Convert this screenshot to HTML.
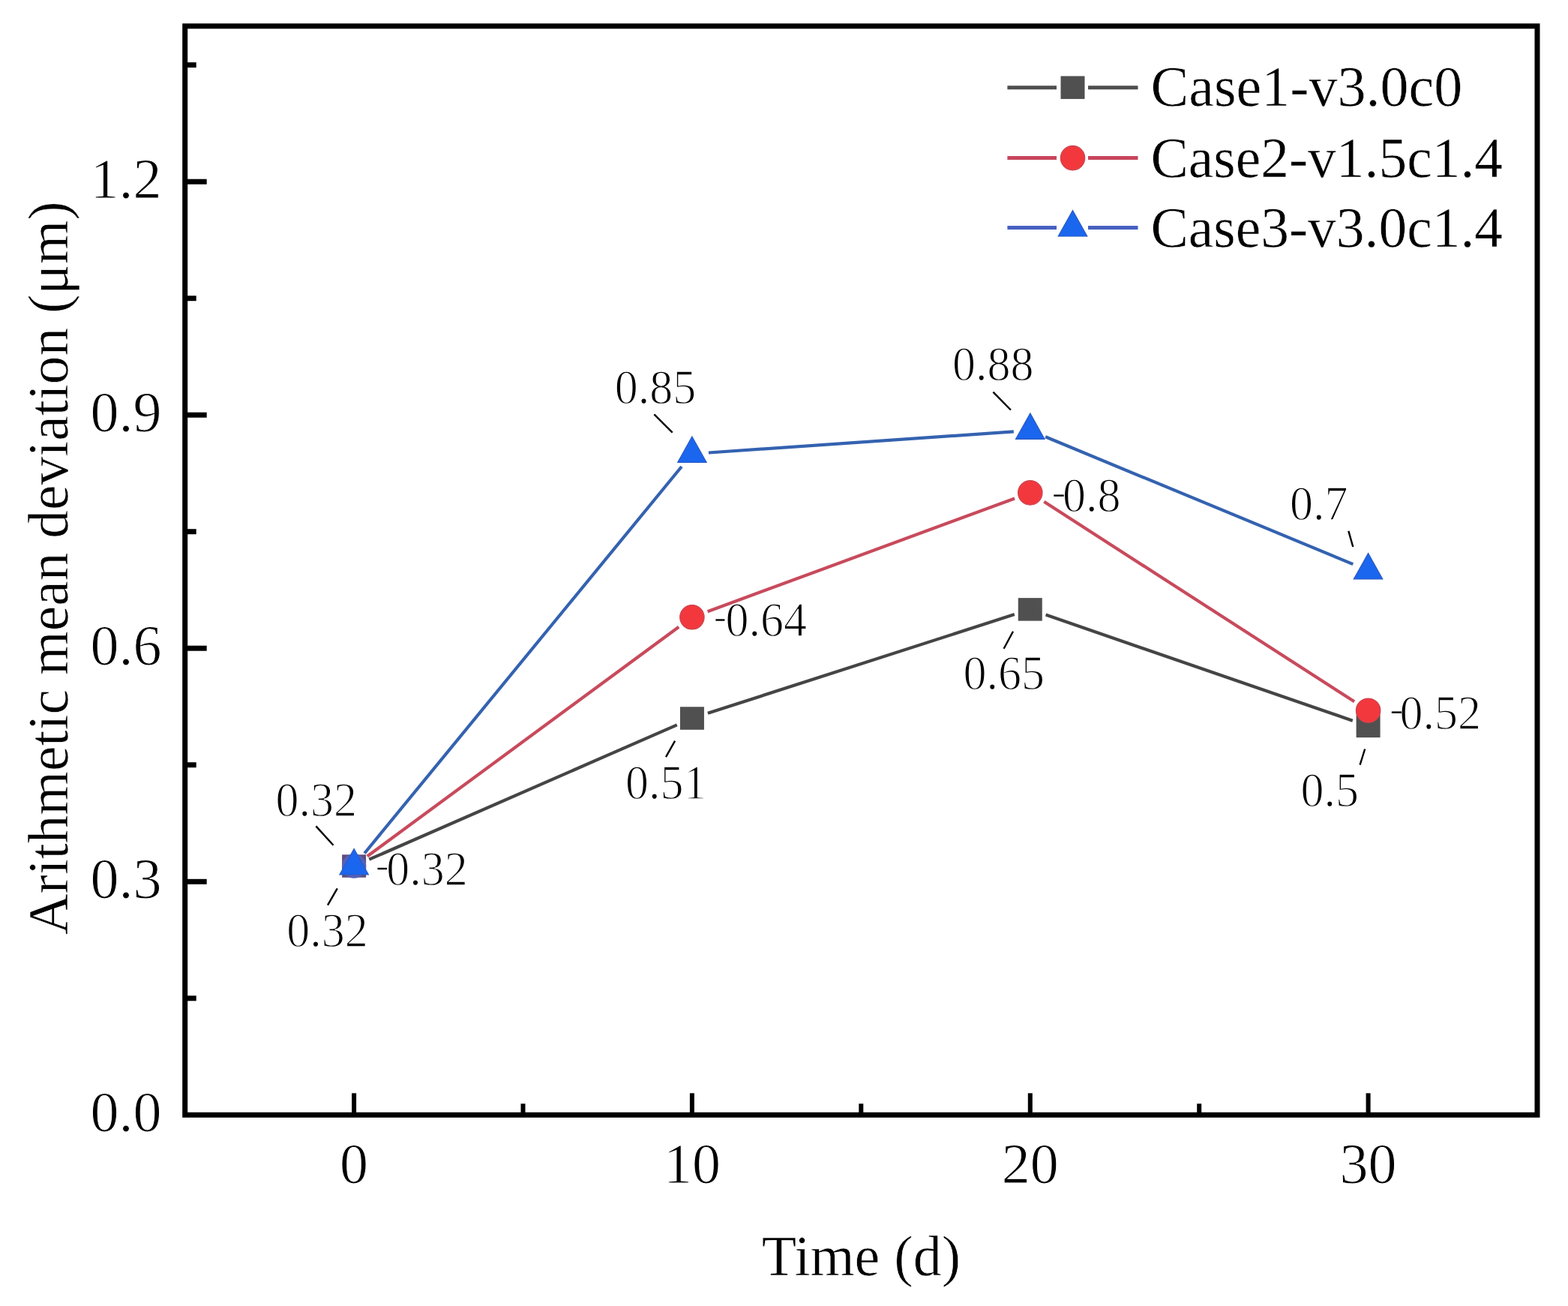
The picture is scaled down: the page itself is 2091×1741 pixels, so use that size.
<!DOCTYPE html><html><head><meta charset="utf-8"><title>Chart</title><style>html,body{margin:0;padding:0;background:#fff;}svg{display:block;}text{font-family:'Liberation Serif','Times New Roman',serif;fill:#000;stroke:#fff;stroke-width:1px;}</style></head><body>
<svg width="2091" height="1741" viewBox="0 0 2091 1741">
<rect x="0" y="0" width="2091" height="1741" fill="#fff"/>
<line x1="492.3" y1="1145.7" x2="902.8" y2="966.3" stroke="#454545" stroke-width="4.2"/>
<line x1="943.9" y1="950.8" x2="1352.8" y2="819.1" stroke="#454545" stroke-width="4.2"/>
<line x1="1394.6" y1="819.6" x2="1803.8" y2="960.7" stroke="#454545" stroke-width="4.2"/>
<rect x="456.11" y="1139.28" width="32" height="30.5" fill="#5c4f7e"/>
<rect x="906.94" y="942.29" width="32" height="30.5" fill="#505050"/>
<rect x="1357.76" y="797.14" width="32" height="30.5" fill="#505050"/>
<rect x="1808.59" y="952.66" width="32" height="30.5" fill="#505050"/>
<line x1="489.8" y1="1141.5" x2="905.2" y2="835.8" stroke="#c84a5c" stroke-width="4.2"/>
<line x1="943.6" y1="815.2" x2="1353.1" y2="664.5" stroke="#c84a5c" stroke-width="4.2"/>
<line x1="1392.3" y1="668.8" x2="1806.1" y2="935.3" stroke="#c84a5c" stroke-width="4.2"/>
<circle cx="472.1" cy="1154.5" r="16.2" fill="#5560b8"/>
<circle cx="922.9" cy="822.8" r="16.2" fill="#f2383d" stroke="#c8444e" stroke-width="1.2"/>
<circle cx="1373.8" cy="656.9" r="16.2" fill="#f2383d" stroke="#c8444e" stroke-width="1.2"/>
<circle cx="1824.6" cy="947.2" r="16.2" fill="#f2383d" stroke="#c8444e" stroke-width="1.2"/>
<line x1="486.1" y1="1137.5" x2="909.0" y2="622.0" stroke="#3462b0" stroke-width="4.2"/>
<line x1="944.9" y1="603.5" x2="1351.8" y2="575.4" stroke="#3462b0" stroke-width="4.2"/>
<line x1="1394.1" y1="582.3" x2="1804.3" y2="752.1" stroke="#3462b0" stroke-width="4.2"/>
<polygon points="472.1,1131.5 491.4,1166.0 452.9,1166.0" fill="#1a66ee" stroke="#2a5ac4" stroke-width="1.2" stroke-linejoin="miter"/>
<polygon points="922.9,582.0 942.2,616.5 903.7,616.5" fill="#1a66ee" stroke="#2a5ac4" stroke-width="1.2" stroke-linejoin="miter"/>
<polygon points="1373.8,550.9 1393.0,585.4 1354.5,585.4" fill="#1a66ee" stroke="#2a5ac4" stroke-width="1.2" stroke-linejoin="miter"/>
<polygon points="1824.6,737.5 1843.8,772.0 1805.3,772.0" fill="#1a66ee" stroke="#2a5ac4" stroke-width="1.2" stroke-linejoin="miter"/>
<rect x="246.7" y="34.8" width="1803.3" height="1451.5" fill="none" stroke="#000" stroke-width="7" stroke-linejoin="miter"/>
<line x1="246.7" y1="1330.8" x2="261.7" y2="1330.8" stroke="#000" stroke-width="7"/>
<line x1="246.7" y1="1175.3" x2="275.7" y2="1175.3" stroke="#000" stroke-width="7"/>
<line x1="246.7" y1="1019.7" x2="261.7" y2="1019.7" stroke="#000" stroke-width="7"/>
<line x1="246.7" y1="864.2" x2="275.7" y2="864.2" stroke="#000" stroke-width="7"/>
<line x1="246.7" y1="708.7" x2="261.7" y2="708.7" stroke="#000" stroke-width="7"/>
<line x1="246.7" y1="553.2" x2="275.7" y2="553.2" stroke="#000" stroke-width="7"/>
<line x1="246.7" y1="397.7" x2="261.7" y2="397.7" stroke="#000" stroke-width="7"/>
<line x1="246.7" y1="242.2" x2="275.7" y2="242.2" stroke="#000" stroke-width="7"/>
<line x1="246.7" y1="86.6" x2="261.7" y2="86.6" stroke="#000" stroke-width="7"/>
<line x1="472.1" y1="1486.3" x2="472.1" y2="1457.3" stroke="#000" stroke-width="6"/>
<line x1="697.5" y1="1486.3" x2="697.5" y2="1471.3" stroke="#000" stroke-width="6"/>
<line x1="922.9" y1="1486.3" x2="922.9" y2="1457.3" stroke="#000" stroke-width="6"/>
<line x1="1148.3" y1="1486.3" x2="1148.3" y2="1471.3" stroke="#000" stroke-width="6"/>
<line x1="1373.8" y1="1486.3" x2="1373.8" y2="1457.3" stroke="#000" stroke-width="6"/>
<line x1="1599.2" y1="1486.3" x2="1599.2" y2="1471.3" stroke="#000" stroke-width="6"/>
<line x1="1824.6" y1="1486.3" x2="1824.6" y2="1457.3" stroke="#000" stroke-width="6"/>
<text x="215.5" y="1507.7" font-size="76" text-anchor="end">0.0</text>
<text x="215.5" y="1196.7" font-size="76" text-anchor="end">0.3</text>
<text x="215.5" y="885.6" font-size="76" text-anchor="end">0.6</text>
<text x="215.5" y="574.6" font-size="76" text-anchor="end">0.9</text>
<text x="215.5" y="263.6" font-size="76" text-anchor="end">1.2</text>
<text x="472.1" y="1576.8" font-size="76" text-anchor="middle">0</text>
<text x="922.9" y="1576.8" font-size="76" text-anchor="middle">10</text>
<text x="1373.8" y="1576.8" font-size="76" text-anchor="middle">20</text>
<text x="1824.6" y="1576.8" font-size="76" text-anchor="middle">30</text>
<text x="1148.3" y="1700" font-size="76" text-anchor="middle" style="stroke-width:0.6px">Time (d)</text>
<text transform="translate(90,757.2) rotate(-90)" x="0" y="0" font-size="75.5" text-anchor="middle" style="stroke-width:0.6px">Arithmetic mean deviation (μm)</text>
<line x1="1343.4" y1="116.7" x2="1409" y2="116.7" stroke="#4e4e4e" stroke-width="5"/>
<line x1="1451" y1="116.7" x2="1517.5" y2="116.7" stroke="#4e4e4e" stroke-width="5"/>
<rect x="1414.50" y="101.45" width="32" height="30.5" fill="#505050"/>
<text x="1534.5" y="141.2" font-size="76" style="stroke-width:0.5px">Case1-v3.0c0</text>
<line x1="1343.4" y1="210.6" x2="1409" y2="210.6" stroke="#c8455c" stroke-width="5"/>
<line x1="1451" y1="210.6" x2="1517.5" y2="210.6" stroke="#c8455c" stroke-width="5"/>
<circle cx="1430.5" cy="210.6" r="16.2" fill="#f2383d" stroke="#c8444e" stroke-width="1.2"/>
<text x="1534.5" y="235.6" font-size="76" textLength="469.5" lengthAdjust="spacingAndGlyphs" style="stroke-width:0.5px">Case2-v1.5c1.4</text>
<line x1="1343.4" y1="303.5" x2="1409" y2="303.5" stroke="#4560c0" stroke-width="5"/>
<line x1="1451" y1="303.5" x2="1517.5" y2="303.5" stroke="#4560c0" stroke-width="5"/>
<polygon points="1430.5,280.5 1449.8,315.0 1411.2,315.0" fill="#1a66ee" stroke="#2a5ac4" stroke-width="1.2" stroke-linejoin="miter"/>
<text x="1534.5" y="329.0" font-size="76" textLength="469.5" lengthAdjust="spacingAndGlyphs" style="stroke-width:0.5px">Case3-v3.0c1.4</text>
<text transform="translate(367.4,1088) scale(1,1.04)" font-size="62" style="stroke-width:1.3px">0.32</text>
<text transform="translate(382.3,1262) scale(1,1.04)" font-size="62" style="stroke-width:1.3px">0.32</text>
<text transform="translate(515.2,1180) scale(1,1.04)" font-size="62" style="stroke-width:1.3px">0.32</text>
<text transform="translate(819.7,537.5) scale(1,1.04)" font-size="62" style="stroke-width:1.3px">0.85</text>
<text transform="translate(1270,507) scale(1,1.04)" font-size="62" style="stroke-width:1.3px">0.88</text>
<text transform="translate(1417,682) scale(1,1.04)" font-size="62" style="stroke-width:1.3px">0.8</text>
<text transform="translate(967.4,847.5) scale(1,1.04)" font-size="62" style="stroke-width:1.3px">0.64</text>
<text transform="translate(1284.4,918.5) scale(1,1.04)" font-size="62" style="stroke-width:1.3px">0.65</text>
<text transform="translate(833.9,1064.5) scale(1,1.04)" font-size="62" style="stroke-width:1.3px">0.51</text>
<text transform="translate(1720,693) scale(1,1.04)" font-size="62" style="stroke-width:1.3px">0.7</text>
<text transform="translate(1866.5,971.5) scale(1,1.04)" font-size="62" style="stroke-width:1.3px">0.52</text>
<text transform="translate(1734.5,1074.5) scale(1,1.04)" font-size="62" style="stroke-width:1.3px">0.5</text>
<line x1="421.4" y1="1101.4" x2="444.5" y2="1126.8" stroke="#000" stroke-width="2.4"/>
<line x1="449.8" y1="1184.3" x2="437" y2="1206.7" stroke="#000" stroke-width="2.4"/>
<line x1="503.5" y1="1158" x2="516" y2="1158" stroke="#000" stroke-width="2.4"/>
<line x1="872.4" y1="552.4" x2="896.7" y2="576.7" stroke="#000" stroke-width="2.4"/>
<line x1="1324.4" y1="522.6" x2="1347.9" y2="546.5" stroke="#000" stroke-width="2.4"/>
<line x1="1405.3" y1="660.6" x2="1418.7" y2="660.6" stroke="#000" stroke-width="2.4"/>
<line x1="954.4" y1="826.5" x2="966.4" y2="826.5" stroke="#000" stroke-width="2.4"/>
<line x1="1351" y1="841.7" x2="1338.6" y2="864.8" stroke="#000" stroke-width="2.4"/>
<line x1="900.1" y1="987.6" x2="888" y2="1009.2" stroke="#000" stroke-width="2.4"/>
<line x1="1798.3" y1="707.9" x2="1804.3" y2="729" stroke="#000" stroke-width="2.4"/>
<line x1="1855.8" y1="949.6" x2="1869" y2="949.6" stroke="#000" stroke-width="2.4"/>
<line x1="1820.2" y1="998.5" x2="1813.6" y2="1019.6" stroke="#000" stroke-width="2.4"/>
</svg></body></html>
